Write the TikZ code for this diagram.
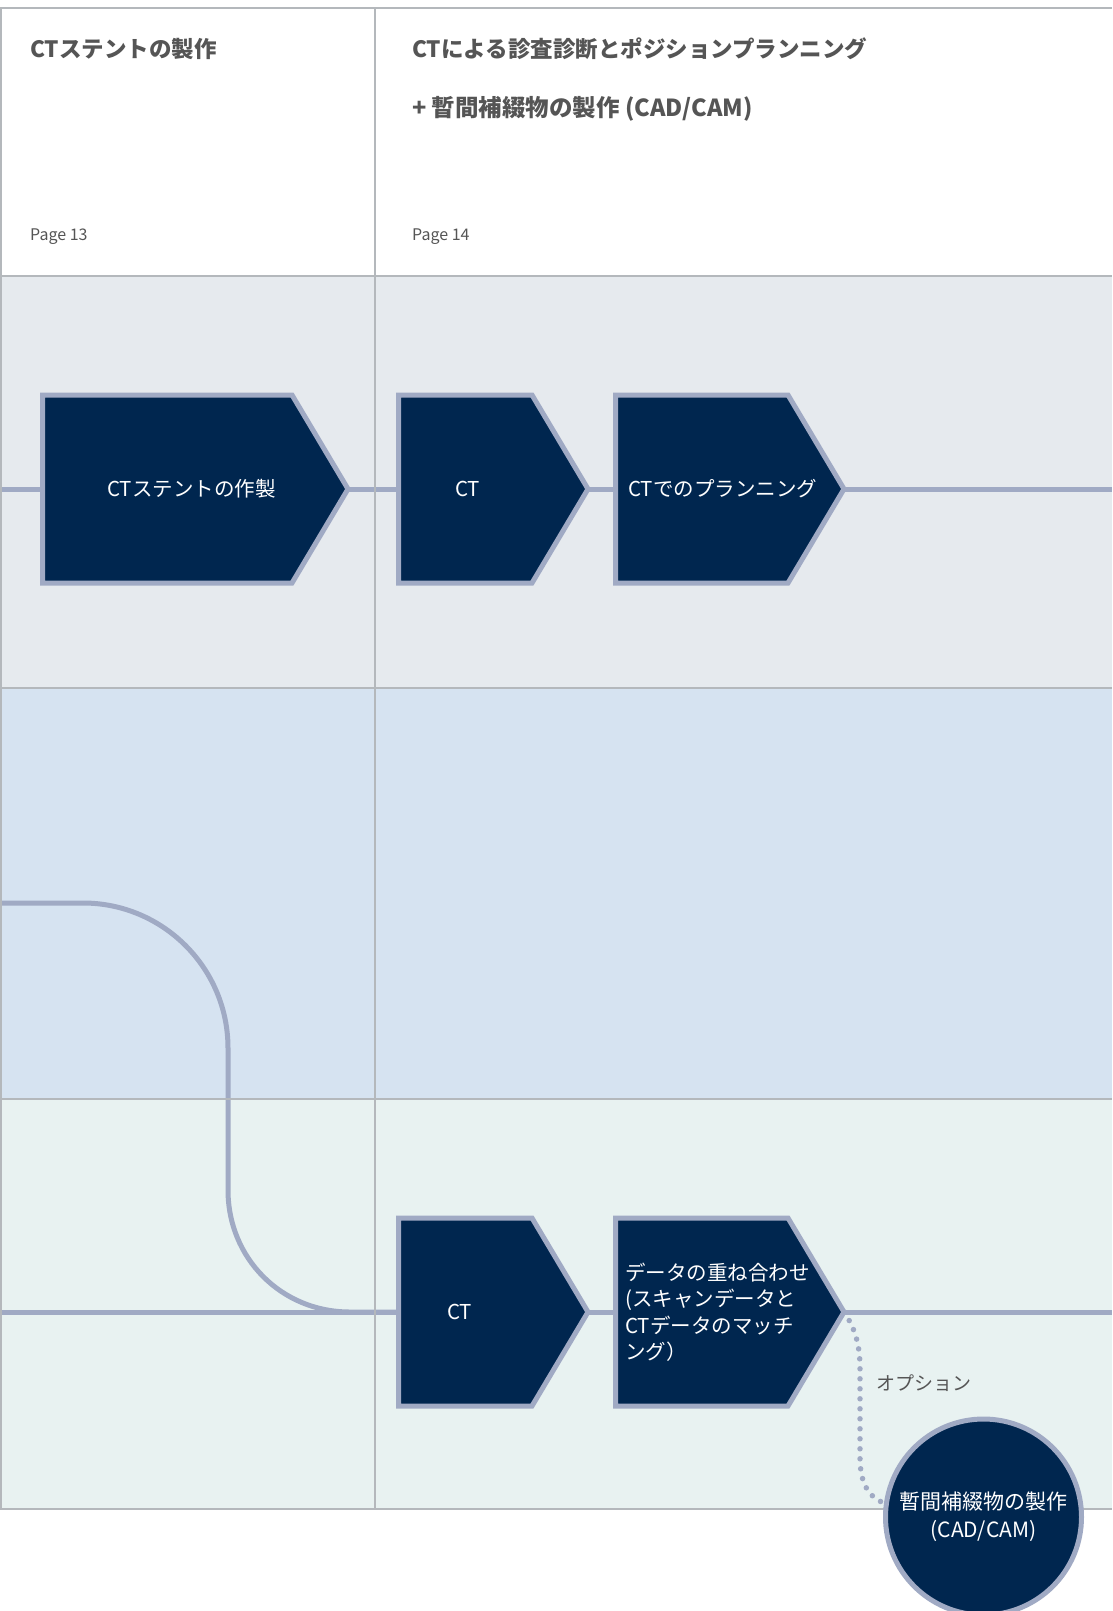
\documentclass[tikz,border=0pt]{standalone}
\usepackage{fontspec}
\setmainfont{Noto Sans CJK JP}
\usetikzlibrary{calc}
\definecolor{navy}{RGB}{0,38,79}
\definecolor{edgec}{RGB}{160,170,196}
\definecolor{gridc}{RGB}{180,184,188}
\definecolor{bandA}{RGB}{230,234,238}
\definecolor{bandB}{RGB}{214,227,241}
\definecolor{bandC}{RGB}{232,242,241}
\definecolor{ink}{RGB}{85,85,85}
\pgfdeclarelayer{bg}
\pgfdeclarelayer{gridlayer}
\pgfsetlayers{bg,gridlayer,main}
% #1 name, #2 left x, #3 corner x, #4 middle y
\newcommand\chevbox[4]{%
  \filldraw[chevron] (#2,#4-94) -- (#3,#4-94) -- (#3+56,#4) -- (#3,#4+94) -- (#2,#4+94) -- cycle;
  \coordinate (#1-in) at (#2,#4);
  \coordinate (#1-out) at (#3+56,#4);
}
\begin{document}
\begin{tikzpicture}[x=1pt,y=-1pt,
  chevron/.style={fill=navy,draw=edgec,line width=5pt},
  flow/.style={draw=edgec,line width=5pt},
  dotflow/.style={draw=edgec,line width=5.5pt,line cap=round,dash pattern=on 0pt off 10pt},
  gridline/.style={draw=gridc,line width=2pt},
  head/.style={anchor=west,inner sep=0pt,text=ink,font=\fontsize{22.5}{27}\selectfont\bfseries},
  head2/.style={anchor=west,inner sep=0pt,text=ink,font=\fontsize{23.5}{27}\selectfont\bfseries},
  pagelbl/.style={anchor=west,inner sep=0pt,text=ink,font=\fontsize{16}{19}\selectfont},
  boxtext/.style={inner sep=0pt,text=white,font=\fontsize{20.5}{26.5}\selectfont},
  optlbl/.style={anchor=west,inner sep=0pt,text=ink,font=\fontsize{19}{23}\selectfont},
]
\useasboundingbox (0,0) rectangle (1112,1611);
\begin{pgfonlayer}{bg}
  \fill[white] (0,0) rectangle (1112,1611);
  \fill[bandA] (0,276) rectangle (1112,688);
  \fill[bandB] (0,688) rectangle (1112,1099);
  \fill[bandC] (0,1099) rectangle (1112,1509);
\end{pgfonlayer}
\begin{pgfonlayer}{gridlayer}
  \draw[gridline] (0,8) -- (1112,8);
  \draw[gridline] (0,276) -- (1112,276);
  \draw[gridline] (0,688) -- (1112,688);
  \draw[gridline] (0,1099) -- (1112,1099);
  \draw[gridline] (0,1509) -- (1112,1509);
  \draw[gridline] (1,8) -- (1,1509);
  \draw[gridline] (375,8) -- (375,1509);
\end{pgfonlayer}

% header
\node[head] (h1) at (30,49) {CTステントの製作};
\node[head] (h2) at (412,49) {CTによる診査診断とポジションプランニング};
\node[head2] (h3) at (412,109) {+ 暫間補綴物の製作 (CAD/CAM)};
\node[pagelbl] (p13) at (30,237) {Page 13};
\node[pagelbl] (p14) at (412,237) {Page 14};

% chevrons
\chevbox{b1}{42.7}{292}{489}
\chevbox{b2}{398.5}{532}{489}
\chevbox{b3}{615.5}{788}{489}
\chevbox{b4}{398.5}{532}{1312}
\chevbox{b5}{615.5}{788}{1312}

\node[boxtext] (t1) at (191.5,489) {CTステントの作製};
\node[boxtext] (t2) at (467.5,489) {CT};
\node[boxtext,anchor=west] (t3) at (628,489) {CTでのプランニング};
\node[boxtext] (t4) at (459.5,1312) {CT};
\node[boxtext,anchor=west,align=left] (t5) at (625,1312) {データの重ね合わせ\\(スキャンデータと\\CTデータのマッチ\\ング）};

\node[optlbl] (opt) at (876,1383) {オプション};

\coordinate (L0) at (0,489);
\coordinate (R1) at (1112,489);
\coordinate (L1) at (0,903);
\coordinate (L2) at (0,1312);
\coordinate (R3) at (1112,1312);

\begin{pgfonlayer}{bg}
  \draw[flow] (L0) -- (b1-in);
  \draw[flow] (b1-out) -- (b2-in);
  \draw[flow] (b2-out) -- (b3-in);
  \draw[flow] (b3-out) -- (R1);
  \draw[flow] (L2) -- (b4-in);
  \draw[flow] (L1) -- (83,903) .. controls (163,903) and (228,968) .. (228,1048)
     -- (228,1190) .. controls (228,1258) and (281,1312) .. (350,1312) -- (b4-in);
  \draw[flow] (b4-out) -- (b5-in);
  \draw[flow] (b5-out) -- (R3);
\end{pgfonlayer}

\draw[dotflow] (b5-out) .. controls (855,1328) and (860,1345) .. (860,1368)
   -- (860,1458) .. controls (860,1482) and (868,1497) .. (884,1503);

\node[circle,fill=navy,draw=edgec,line width=5pt,minimum size=196pt,inner sep=0pt,
  text=white,align=center,font=\fontsize{21}{28}\selectfont] (circ) at (983.5,1517)
  {暫間補綴物の製作\\(CAD/CAM)};
\end{tikzpicture}
\end{document}
